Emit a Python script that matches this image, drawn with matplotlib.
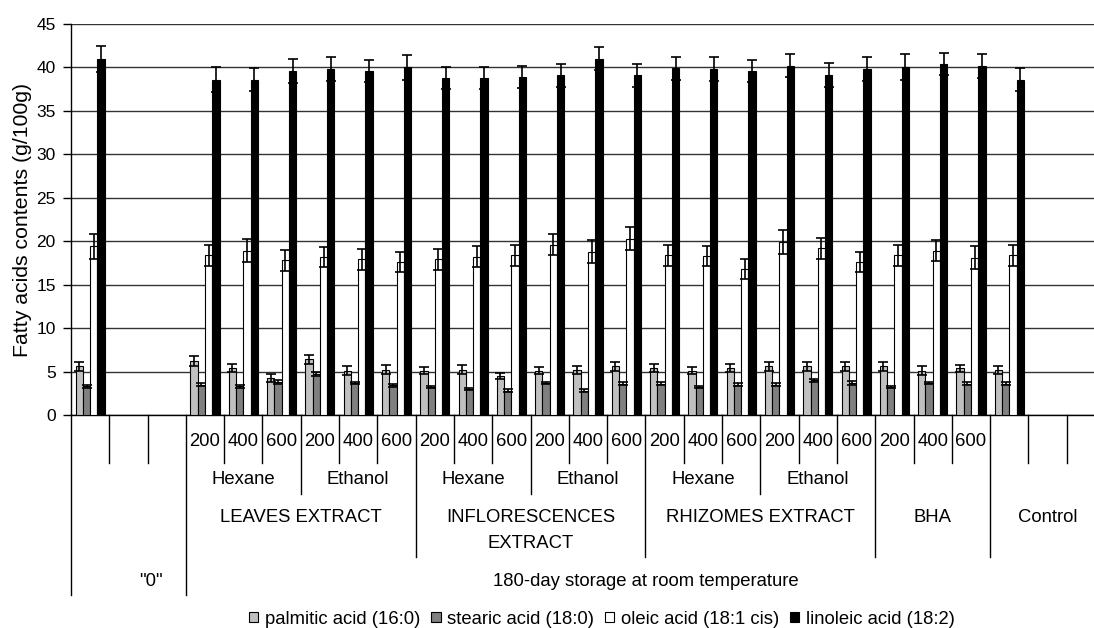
import numpy as np
import matplotlib.pyplot as plt
from matplotlib import transforms
from matplotlib.lines import Line2D

plt.rcParams['font.family'] = ['Liberation Sans', 'DejaVu Sans']

# category slots that carry bars (27 slots on the axis, "0" and Control padded with blanks)
slots = [0, 3, 4, 5, 6, 7, 8, 9, 10, 11, 12, 13, 14, 15, 16, 17, 18, 19, 20, 21, 22, 23, 24]
n_slots = 27

palmitic = [5.6, 6.2, 5.4, 4.3, 6.4, 5.1, 5.2, 5.1, 5.2, 4.5, 5.1, 5.2,
            5.6, 5.4, 5.1, 5.4, 5.6, 5.6, 5.6, 5.6, 5.1, 5.4, 5.2]
palmitic_err = [0.5, 0.6, 0.5, 0.45, 0.5, 0.5, 0.5, 0.4, 0.5, 0.35, 0.4, 0.45,
                0.5, 0.5, 0.4, 0.5, 0.5, 0.5, 0.5, 0.5, 0.5, 0.4, 0.45]
stearic = [3.3, 3.5, 3.3, 3.8, 4.7, 3.7, 3.4, 3.2, 3.0, 2.8, 3.7, 2.8,
           3.6, 3.6, 3.2, 3.5, 3.5, 4.0, 3.7, 3.2, 3.7, 3.6, 3.6]
stearic_err = [0.15, 0.15, 0.2, 0.2, 0.2, 0.15, 0.15, 0.15, 0.15, 0.15, 0.15, 0.15,
               0.15, 0.15, 0.15, 0.15, 0.15, 0.15, 0.2, 0.15, 0.15, 0.15, 0.15]
oleic = [19.4, 18.4, 18.9, 17.8, 18.2, 17.9, 17.6, 17.9, 18.2, 18.4, 19.6, 18.8,
         20.3, 18.4, 18.3, 16.8, 19.9, 19.2, 17.6, 18.4, 18.9, 18.1, 18.4]
oleic_err = [1.4, 1.2, 1.3, 1.2, 1.15, 1.2, 1.15, 1.2, 1.2, 1.2, 1.2, 1.3,
             1.35, 1.2, 1.2, 1.15, 1.4, 1.2, 1.15, 1.2, 1.2, 1.3, 1.2]
linoleic = [41.0, 38.6, 38.6, 39.6, 39.8, 39.6, 40.0, 38.8, 38.8, 38.9, 39.1, 41.0,
            39.1, 39.9, 39.8, 39.6, 40.2, 39.1, 39.8, 40.1, 40.4, 40.2, 38.6]
linoleic_err = [1.5, 1.4, 1.3, 1.4, 1.4, 1.3, 1.4, 1.3, 1.3, 1.3, 1.3, 1.3,
                1.3, 1.3, 1.4, 1.3, 1.3, 1.4, 1.4, 1.5, 1.3, 1.4, 1.3]

series = [
    ('palmitic acid (16:0)', palmitic, palmitic_err, '#c0c0c0'),
    ('stearic acid (18:0)', stearic, stearic_err, '#808080'),
    ('oleic acid (18:1 cis)', oleic, oleic_err, 'white'),
    ('linoleic acid (18:2)', linoleic, linoleic_err, 'black'),
]

doses = ['200', '400', '600']
dose_slots = list(range(3, 24))
solvents = [('Hexane', 4.5), ('Ethanol', 7.5), ('Hexane', 10.5),
            ('Ethanol', 13.5), ('Hexane', 16.5), ('Ethanol', 19.5)]
groups = [('LEAVES EXTRACT', 6), ('INFLORESCENCES\nEXTRACT', 12),
          ('RHIZOMES EXTRACT', 18), ('BHA', 22.5), ('Control', 25.5)]

W, H = 1094, 628
fig = plt.figure(figsize=(W / 100, H / 100), dpi=100)
ax = fig.add_axes([71 / W, (H - 415) / H, (1105 - 71) / W, (415 - 24) / H])

x = np.array(slots) + 0.5
bw = 0.19
for i, (name, vals, errs, col) in enumerate(series):
    ax.bar(x + (i - 1.5) * bw, vals, bw, color=col, edgecolor='black', linewidth=0.8,
           label=name, zorder=3,
           yerr=errs, error_kw=dict(ecolor='black', elinewidth=1.2, capsize=3.8, capthick=1.2, zorder=4))

fs = 13.3
ax.set_xlim(0, n_slots)
ax.set_ylim(0, 45)
ax.set_yticks(np.arange(0, 46, 5))
ax.yaxis.grid(True, color='#333333', linewidth=1)
ax.set_axisbelow(True)
ax.set_xticks([])
for s in ['top', 'right']:
    ax.spines[s].set_visible(False)
ax.spines['left'].set_linewidth(1)
ax.spines['bottom'].set_linewidth(1)
ax.tick_params(axis='y', length=6, width=1, labelsize=12.5, pad=5)
ax.set_ylabel('Fatty acids contents (g/100g)', fontsize=15.3, labelpad=3)

# multi-level category axis drawn underneath the plot
trans = transforms.blended_transform_factory(ax.transData, fig.transFigure)


def fy(py):
    return (H - py) / H


def vline(k, bottom):
    ax.add_line(Line2D([k, k], [fy(415), fy(bottom)], transform=trans,
                       color='black', linewidth=1, clip_on=False))


for k in [1, 2, 4, 5, 7, 8, 10, 11, 13, 14, 16, 17, 19, 20, 22, 23, 25, 26]:
    vline(k, 463)
for k in [6, 12, 18]:
    vline(k, 494)
for k in [9, 15, 21, 24]:
    vline(k, 557)
for k in [0, 3]:
    vline(k, 595)

for i, k in enumerate(dose_slots):
    ax.text(k + 0.5, fy(442), doses[i % 3], transform=trans, ha='center', va='center', fontsize=fs)
for name, xc in solvents:
    ax.text(xc, fy(480), name, transform=trans, ha='center', va='center', fontsize=fs)
for name, xc in groups:
    for j, line in enumerate(name.split('\n')):
        ax.text(xc, fy(518 + 25 * j), line, transform=trans, ha='center', va='center', fontsize=fs)
ax.text(2.09, fy(582), '"0"', transform=trans, ha='center', va='center', fontsize=fs)
ax.text(15, fy(582), '180-day storage at room temperature', transform=trans,
        ha='center', va='center', fontsize=fs)

fig.legend(loc='center', bbox_to_anchor=(602 / W, fy(619)), ncol=4, frameon=False,
           fontsize=fs, handlelength=0.5, handleheight=0.5, handletextpad=0.35,
           columnspacing=0.6, borderaxespad=0, borderpad=0)

fig.savefig('out.png', dpi=100)
